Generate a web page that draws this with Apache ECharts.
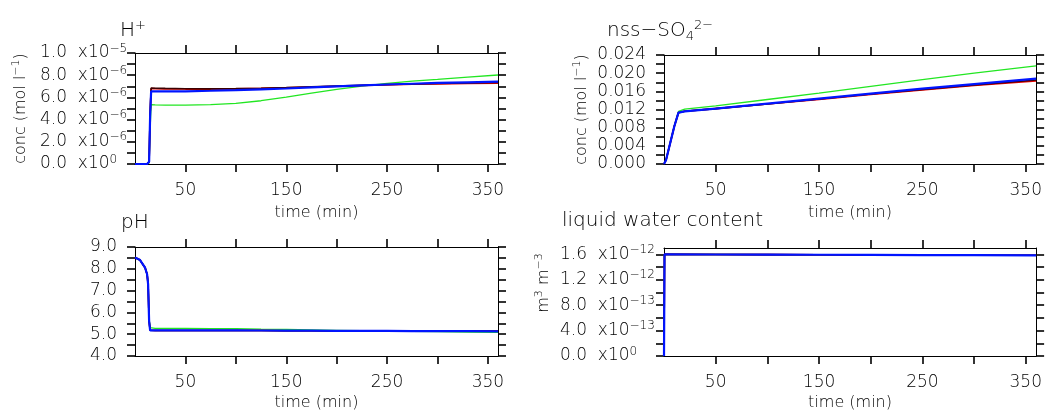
<!DOCTYPE html>
<html>
<head>
<meta charset="utf-8">
<script src="https://cdn.jsdelivr.net/npm/echarts@6/dist/echarts.min.js"></script>
<style>
  html, body { margin: 0; padding: 0; background: #fff; }
  #chart { width: 1045px; height: 412px; }
</style>
</head>
<body>
<div id="chart"></div>
<script>
// time axis ticks (min)
const xTicks = [50, 100, 150, 200, 250, 300, 350];
const xLabels = [50, 150, 250, 350];

// H+ and pH share one time base
const timeH = [0, 5, 10, 12, 13, 14, 15, 16, 20, 30, 50, 75, 100, 125, 150, 175, 200, 225, 250, 275, 300, 330, 360];
const hBlack = [0, 0, 0, 0, 0, 0.2e-6, 4.5e-6, 6.84e-6, 6.83e-6, 6.81e-6, 6.78e-6, 6.77e-6, 6.79e-6, 6.83e-6, 6.88e-6, 6.95e-6, 7.02e-6, 7.09e-6, 7.16e-6, 7.21e-6, 7.26e-6, 7.3e-6, 7.34e-6];
const hRed = [0, 0, 0, 0, 0, 0.2e-6, 4.5e-6, 6.8e-6, 6.79e-6, 6.77e-6, 6.75e-6, 6.75e-6, 6.77e-6, 6.81e-6, 6.87e-6, 6.94e-6, 7.01e-6, 7.07e-6, 7.13e-6, 7.18e-6, 7.22e-6, 7.25e-6, 7.28e-6];
const hGreen = [0, 0, 0, 0, 0, 0.1e-6, 3.2e-6, 5.35e-6, 5.33e-6, 5.31e-6, 5.3e-6, 5.35e-6, 5.47e-6, 5.7e-6, 6.02e-6, 6.38e-6, 6.73e-6, 7.02e-6, 7.27e-6, 7.47e-6, 7.63e-6, 7.83e-6, 8.02e-6];
const hBlue = [0, 0, 0, 0, 0, 0.2e-6, 4.3e-6, 6.55e-6, 6.55e-6, 6.54e-6, 6.55e-6, 6.6e-6, 6.66e-6, 6.73e-6, 6.8e-6, 6.9e-6, 7.0e-6, 7.08e-6, 7.16e-6, 7.23e-6, 7.3e-6, 7.36e-6, 7.42e-6];

const phBlack = [8.52, 8.4, 8.05, 7.75, 7.3, 5.6, 5.18, 5.17, 5.17, 5.17, 5.17, 5.17, 5.17, 5.17, 5.16, 5.16, 5.15, 5.15, 5.15, 5.14, 5.14, 5.14, 5.14];
const phRed = [8.52, 8.4, 8.05, 7.75, 7.3, 5.6, 5.18, 5.17, 5.17, 5.17, 5.17, 5.17, 5.17, 5.17, 5.16, 5.16, 5.15, 5.15, 5.15, 5.15, 5.14, 5.14, 5.14];
const phGreen = [8.52, 8.4, 8.05, 7.75, 7.3, 5.7, 5.3, 5.27, 5.27, 5.27, 5.27, 5.26, 5.25, 5.23, 5.22, 5.2, 5.18, 5.16, 5.15, 5.13, 5.12, 5.1, 5.09];
const phBlue = [8.52, 8.4, 8.05, 7.75, 7.3, 5.6, 5.18, 5.18, 5.18, 5.18, 5.18, 5.18, 5.18, 5.17, 5.16, 5.16, 5.15, 5.15, 5.15, 5.14, 5.14, 5.14, 5.13];

// nss-SO4 2-
const timeS = [0, 1, 2, 5, 10, 14, 15, 20, 50, 100, 150, 200, 250, 300, 360];
const sBlack = [0, 0, 0.0009, 0.0037, 0.0083, 0.0113, 0.0115, 0.0116, 0.0122, 0.0132, 0.0143, 0.0154, 0.0164, 0.0174, 0.0185];
const sRed = [0, 0, 0.0009, 0.0037, 0.0083, 0.0113, 0.0115, 0.0116, 0.0122, 0.0132, 0.0142, 0.0153, 0.0163, 0.0173, 0.0183];
const sGreen = [0, 0, 0.0009, 0.0037, 0.0084, 0.0116, 0.0119, 0.0121, 0.0128, 0.0142, 0.0156, 0.0171, 0.0186, 0.0200, 0.0216];
const sBlue = [0, 0, 0.0009, 0.0037, 0.0083, 0.0113, 0.0115, 0.0116, 0.0122, 0.0133, 0.0144, 0.0155, 0.0166, 0.0176, 0.0188];

// liquid water content
const timeL = [0, 0.5, 2, 50, 100, 150, 200, 250, 300, 360];
const lBlack = [0, 1.6e-12, 1.6e-12, 1.598e-12, 1.596e-12, 1.594e-12, 1.592e-12, 1.589e-12, 1.587e-12, 1.585e-12];
const lRed = [0, 1.6e-12, 1.6e-12, 1.598e-12, 1.596e-12, 1.594e-12, 1.592e-12, 1.589e-12, 1.587e-12, 1.585e-12];
const lGreen = [0, 1.6e-12, 1.6e-12, 1.598e-12, 1.596e-12, 1.594e-12, 1.592e-12, 1.589e-12, 1.587e-12, 1.585e-12];
const lBlue = [0, 1.6e-12, 1.6e-12, 1.598e-12, 1.596e-12, 1.594e-12, 1.592e-12, 1.589e-12, 1.587e-12, 1.585e-12];

// y ticks / labels per panel
const hTicks = [0, 1e-6, 2e-6, 3e-6, 4e-6, 5e-6, 6e-6, 7e-6, 8e-6, 9e-6, 1e-5];
const hLabels = [0, 2e-6, 4e-6, 6e-6, 8e-6, 1e-5];
const sTicks = [0, 0.002, 0.004, 0.006, 0.008, 0.010, 0.012, 0.014, 0.016, 0.018, 0.020, 0.022, 0.024];
const sLabels = [0, 0.004, 0.008, 0.012, 0.016, 0.020, 0.024];
const phTicks = [4, 4.5, 5, 5.5, 6, 6.5, 7, 7.5, 8, 8.5, 9];
const phLabels = [4, 5, 6, 7, 8, 9];
const lTicks = [0, 2e-13, 4e-13, 6e-13, 8e-13, 1e-12, 1.2e-12, 1.4e-12, 1.6e-12];
const lLabels = [0, 4e-13, 8e-13, 1.2e-12, 1.6e-12];

const FONT = '"DejaVu Sans", sans-serif';
const INK = '#000';
const W = 200;
// tick labels
const rich = {
  b: { fontSize: 17, fontFamily: FONT, fontWeight: W, color: INK },
  s: { fontSize: 12, fontFamily: FONT, fontWeight: W, color: INK, padding: [0, 0, 9, 0] }
};
// axis names
const richN = {
  b: { fontSize: 16, fontFamily: FONT, fontWeight: W, color: INK },
  s: { fontSize: 11, fontFamily: FONT, fontWeight: W, color: INK, padding: [0, 0, 9, 0] }
};
// panel titles
const richT = {
  b: { fontSize: 20, fontFamily: FONT, fontWeight: W, color: INK },
  s: { fontSize: 13, fontFamily: FONT, fontWeight: W, color: INK, padding: [0, 0, 11, 0] },
  u: { fontSize: 13, fontFamily: FONT, fontWeight: W, color: INK, padding: [11, 0, 0, 0] }
};

function sci(v) {
  const [m, e] = v.toExponential(1).split('e');
  const ex = parseInt(e, 10);
  return '{b|' + m + '  x10}{s|' + (ex < 0 ? '\u2212' + (-ex) : ex) + '}';
}

const grids = [
  { left: 135, top: 53, width: 363, height: 111 },
  { left: 664, top: 55, width: 373, height: 109 },
  { left: 135, top: 247, width: 363, height: 111 },
  { left: 664, top: 248, width: 373, height: 110 }
];

const lineStyleBase = { color: INK, width: 1 };
const tickBase = { show: true, length: 8, lineStyle: { color: INK, width: 1.6 } };

const xAxes = [];
const yAxes = [];
grids.forEach((g, i) => {
  xAxes.push({
    type: 'value', gridIndex: i, min: 0, max: 360, position: 'bottom',
    axisLine: { show: true, onZero: false, lineStyle: lineStyleBase },
    axisTick: Object.assign({ customValues: xTicks }, tickBase),
    axisLabel: { customValues: xLabels, margin: 18, fontSize: 17, fontFamily: FONT, fontWeight: W, color: INK },
    splitLine: { show: false },
    name: 'time (min)', nameLocation: 'middle', nameGap: i < 2 ? 41 : 39,
    nameTextStyle: { fontSize: 16, fontFamily: FONT, fontWeight: W, color: INK }
  });
  xAxes.push({
    type: 'value', gridIndex: i, min: 0, max: 360, position: 'top',
    axisLine: { show: true, onZero: false, lineStyle: lineStyleBase },
    axisTick: Object.assign({ customValues: xTicks }, tickBase),
    axisLabel: { show: false }, splitLine: { show: false }
  });
});

const yDefs = [
  { min: 0, max: 1e-5, ticks: hTicks, labels: hLabels, fmt: sci, margin: 95, align: 'left',
    name: '{b|conc (mol l}{s|\u22121}{b|)}', nameGap: 104, namePad: [0, 0, 0, 0] },
  { min: 0, max: 0.024, ticks: sTicks, labels: sLabels, fmt: v => '{b|' + v.toFixed(3) + '}', margin: 18, align: 'right',
    name: '{b|conc (mol l}{s|\u22121}{b|)}', nameGap: 72, namePad: [0, 0, 0, 0] },
  { min: 4, max: 9, ticks: phTicks, labels: phLabels, fmt: v => '{b|' + v.toFixed(1) + '}', margin: 18, align: 'right',
    name: '', nameGap: 0, namePad: [0, 0, 0, 0] },
  { min: 0, max: 1.7e-12, ticks: lTicks, labels: lLabels, fmt: sci, margin: 104, align: 'left',
    name: '{b|m}{s|3}{b| m}{s|\u22123}', nameGap: 110, namePad: [0, 0, 0, 38] }
];

yDefs.forEach((d, i) => {
  yAxes.push({
    type: 'value', gridIndex: i, min: d.min, max: d.max, position: 'left',
    axisLine: { show: true, onZero: false, lineStyle: lineStyleBase },
    axisTick: Object.assign({ customValues: d.ticks }, tickBase),
    axisLabel: { customValues: d.labels, formatter: d.fmt, rich: rich, margin: d.margin, align: d.align },
    splitLine: { show: false },
    name: d.name, nameLocation: 'middle', nameGap: d.nameGap, nameRotate: 90,
    nameTextStyle: { rich: richN, padding: d.namePad }
  });
  yAxes.push({
    type: 'value', gridIndex: i, min: d.min, max: d.max, position: 'right',
    axisLine: { show: true, onZero: false, lineStyle: lineStyleBase },
    axisTick: Object.assign({ customValues: d.ticks }, tickBase),
    axisLabel: { show: false }, splitLine: { show: false }
  });
});

function pairs(t, v) { return t.map((x, k) => [x, v[k]]); }

const colors = { black: '#3a0000', red: '#e80000', green: '#22e622', blue: '#0014ff' };
const widths = { black: 1.6, red: 1.6, green: 1.3, blue: 2.2 };
const panels = [
  { t: timeH, black: hBlack, green: hGreen, red: hRed, blue: hBlue },
  { t: timeS, black: sBlack, green: sGreen, red: sRed, blue: sBlue },
  { t: timeH, black: phBlack, green: phGreen, red: phRed, blue: phBlue },
  { t: timeL, black: lBlack, green: lGreen, red: lRed, blue: lBlue }
];

const series = [];
panels.forEach((p, i) => {
  ['green', 'red', 'black', 'blue'].forEach(k => {
    series.push({
      type: 'line', name: k, xAxisIndex: i * 2, yAxisIndex: i * 2,
      data: pairs(p.t, p[k]), showSymbol: false, symbol: 'none', animation: false,
      lineStyle: { color: colors[k], width: widths[k] }
    });
  });
});

const titles = [
  { text: '{b|H}{s|+}', left: 120, top: 19 },
  { text: '{b|nss\u2212SO}{u|4}{s|2\u2212}', left: 607, top: 19 },
  { text: '{b|pH}', left: 121, top: 213 },
  { text: '{b|liquid water content}', left: 562, top: 211 }
].map(t => Object.assign(t, { padding: 0, textStyle: { rich: richT } }));

const chart = echarts.init(document.getElementById('chart'));
chart.setOption({
  backgroundColor: '#fff',
  animation: false,
  title: titles,
  grid: grids,
  xAxis: xAxes,
  yAxis: yAxes,
  series: series
});
</script>
</body>
</html>
